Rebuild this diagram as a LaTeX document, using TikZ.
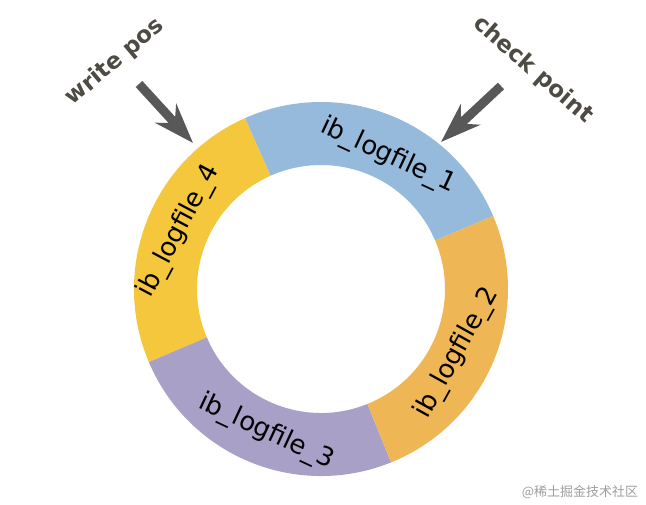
\documentclass[tikz,border=0pt]{standalone}
\usepackage{fontspec}
\setmainfont{DejaVu Sans}
\newfontfamily\cjk{Noto Sans CJK SC}
\usetikzlibrary{arrows.meta}
\definecolor{segblue}{RGB}{150,186,220}
\definecolor{segyellow}{RGB}{245,199,60}
\definecolor{segorange}{RGB}{239,182,86}
\definecolor{segpurple}{RGB}{168,160,198}
\definecolor{darkink}{RGB}{78,74,68}
\definecolor{arrowgray}{RGB}{88,88,88}
\tikzset{
  seglabel/.style={font=\fontsize{26}{30}\selectfont, text=black, inner sep=0pt},
  pointer/.style={font=\bfseries\fontsize{23}{27}\selectfont, text=darkink, inner sep=0pt},
  bigarrow/.style={draw=arrowgray, line width=9pt,
    -{Stealth[length=40pt, width=28pt, inset=13pt, fill=arrowgray]}},
  watermark/.style={font=\cjk\fontsize{13}{15}\selectfont, text=black!38, inner sep=0pt}
}
\newcommand{\ringseg}[3]{%
  \fill[#3] ([shift={(#1:187)}]ctr) arc[start angle=#1, end angle=#2, radius=187]
    -- ([shift={(#2:124)}]ctr) arc[start angle=#2, end angle=#1, radius=124] -- cycle;}
\begin{document}
\begin{tikzpicture}[x=1pt,y=1pt]
\useasboundingbox (0,0) rectangle (646,504);
\fill[white] (0,0) rectangle (646,504);
\coordinate (ctr) at (321,215);
\ringseg{23}{114}{segblue}
\ringseg{114}{203}{segyellow}
\ringseg{203}{292}{segpurple}
\ringseg{292}{383}{segorange}
\node[seglabel, rotate=-25] (l1) at (388,348) {ib\_logfile\_1};
\node[seglabel, rotate=61] (l2) at (457,151) {ib\_logfile\_2};
\node[seglabel, rotate=-25] (l3) at (266,72) {ib\_logfile\_3};
\node[seglabel, rotate=62] (l4) at (179,273) {ib\_logfile\_4};
\node[pointer, rotate=40] (wp) at (115,442) {write pos};
\node[pointer, rotate=-41] (cp) at (533,434) {check point};
\coordinate (wpt) at (139,420);
\coordinate (wph) at (193,361);
\coordinate (cpt) at (501,418);
\coordinate (cph) at (441,362);
\draw[bigarrow] (wpt) -- (wph);
\draw[bigarrow] (cpt) -- (cph);
\node[watermark] (wm) at (580,12) {@稀土掘金技术社区};
\end{tikzpicture}
\end{document}
